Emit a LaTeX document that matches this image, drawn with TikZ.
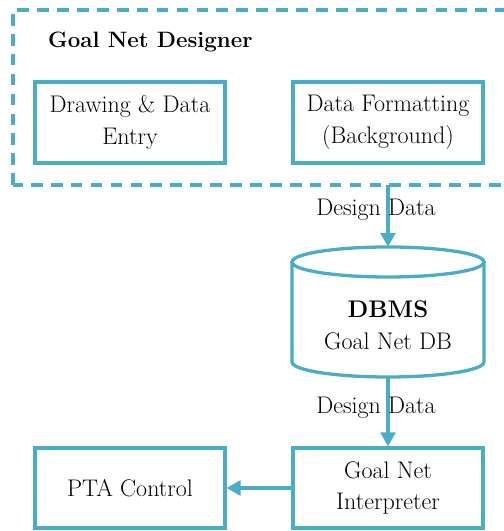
\documentclass[tikz,border=0pt]{standalone}
\usepackage{fontspec}
\usepackage{tikz}
\usetikzlibrary{arrows.meta,positioning,shadows}
\definecolor{accent}{RGB}{75,172,198}

\begin{document}
\begin{tikzpicture}[
    x=0.03cm, y=0.03cm,
    box/.style={draw=accent, line width=2.8pt, fill=white, minimum width=5.7cm, minimum height=2.43cm, align=center, font=\fontsize{20.5}{27}\selectfont, drop shadow={shadow xshift=1.5pt, shadow yshift=-1.5pt, opacity=0.35}},
    arrow/.style={-{Triangle[length=0.42cm,width=0.45cm]}, accent, line width=2.6pt},
    lbl/.style={font=\fontsize{20.5}{27}\selectfont, align=center, text=black}
]
    \useasboundingbox (0,0) rectangle (504,531);
    \clip (0,0) rectangle (504,531);

    % Designer frame (runs off the right edge)
    \draw[accent, line width=2.8pt, dash pattern=on 10pt off 7pt] (13,346) rectangle (530,521);
    \node[font=\fontsize{19}{27}\selectfont\bfseries, anchor=west] (title) at (44,489) {Goal Net Designer};

    \node[box] (entry) at (130,408.5) {Drawing \& Data\\Entry};
    \node[box] (fmt) at (388,408.5) {Data Formatting\\(Background)};
    \coordinate (out) at (388,346);

    % Database cylinder
    \draw[accent, line width=2.8pt, fill=white] (292,269) -- (292,169) arc[start angle=180, end angle=360, x radius=96, y radius=15] -- (484,269);
    \draw[accent, line width=2.8pt] (388,269) ellipse [x radius=96, y radius=15];
    \node[minimum width=5.76cm, minimum height=3.9cm] (db) at (388,219) {};
    \node[lbl] (dbtext) at (388,206) {\textbf{DBMS}\\Goal Net DB};

    % Bottom row
    \node[box, minimum height=2.4cm] (interp) at (388,43) {Goal Net\\Interpreter};
    \node[box, minimum height=2.4cm] (pta) at (130,43) {PTA Control};

    \draw[arrow] (out) -- (db.north) node[lbl, pos=0.4, xshift=-0.36cm] {Design Data};
    \draw[arrow] (db.south) -- (interp.north) node[lbl, pos=0.44, xshift=-0.36cm] {Design Data};
    \draw[arrow] (interp) -- (pta);
\end{tikzpicture}
\end{document}
